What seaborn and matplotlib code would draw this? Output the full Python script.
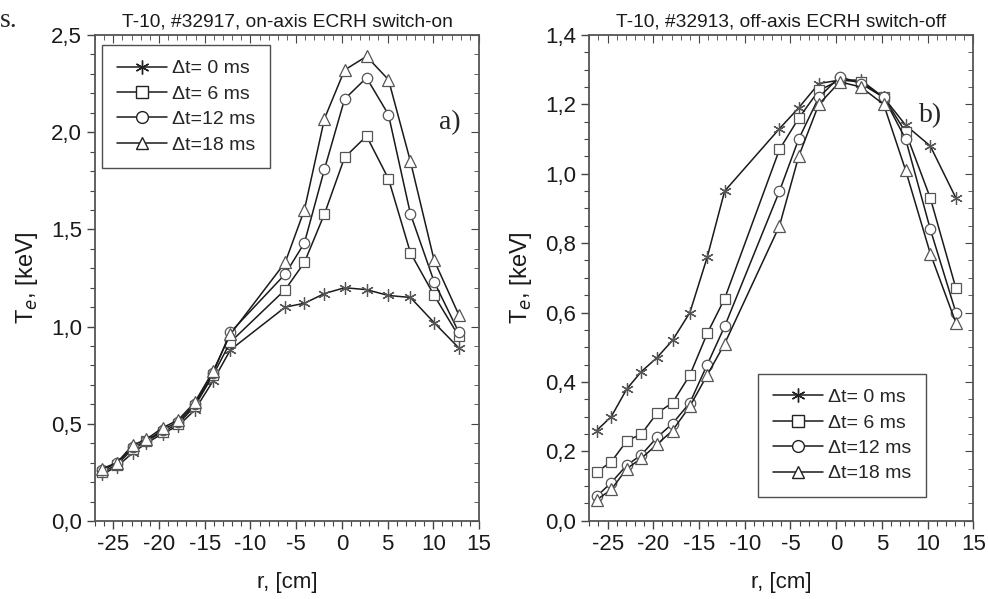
import numpy as np
import pandas as pd
import seaborn as sns
import matplotlib.pyplot as plt
from matplotlib.ticker import MultipleLocator, FuncFormatter
from matplotlib.lines import Line2D

# radial positions of the measurement chords
r_a = [-26.2, -24.6, -22.9, -21.4, -19.6, -17.9, -16.1, -14.1, -12.2,
       -6.2, -4.1, -1.9, 0.3, 2.7, 5.1, 7.5, 10.1, 12.8]
r_b = [-26.2, -24.6, -22.9, -21.3, -19.6, -17.9, -16.0, -14.1, -12.2,
       -6.2, -4.1, -1.9, 0.4, 2.7, 5.2, 7.6, 10.3, 13.1]

labels = ['\u0394t= 0 ms', '\u0394t= 6 ms', '\u0394t=12 ms', '\u0394t=18 ms']

# a) #32917, on-axis ECRH switch-on
te_a_0 = [0.24, 0.28, 0.35, 0.40, 0.45, 0.49, 0.57, 0.72, 0.88,
          1.10, 1.12, 1.17, 1.20, 1.19, 1.16, 1.15, 1.02, 0.89]
te_a_6 = [0.25, 0.29, 0.37, 0.41, 0.46, 0.50, 0.59, 0.75, 0.92,
          1.19, 1.33, 1.58, 1.87, 1.98, 1.76, 1.38, 1.16, 0.95]
te_a_12 = [0.26, 0.30, 0.38, 0.41, 0.47, 0.51, 0.60, 0.76, 0.97,
           1.27, 1.43, 1.81, 2.17, 2.28, 2.09, 1.58, 1.23, 0.97]
te_a_18 = [0.27, 0.30, 0.39, 0.42, 0.48, 0.52, 0.61, 0.77, 0.96,
           1.33, 1.60, 2.07, 2.32, 2.39, 2.27, 1.85, 1.34, 1.06]

# b) #32913, off-axis ECRH switch-off
te_b_0 = [0.26, 0.30, 0.38, 0.43, 0.47, 0.52, 0.60, 0.76, 0.95,
          1.13, 1.19, 1.26, 1.27, 1.27, 1.22, 1.14, 1.08, 0.93]
te_b_6 = [0.14, 0.17, 0.23, 0.25, 0.31, 0.34, 0.42, 0.54, 0.64,
          1.07, 1.16, 1.24, 1.27, 1.265, 1.22, 1.12, 0.93, 0.67]
te_b_12 = [0.07, 0.11, 0.16, 0.19, 0.24, 0.28, 0.34, 0.45, 0.56,
           0.95, 1.10, 1.22, 1.28, 1.26, 1.22, 1.10, 0.84, 0.60]
te_b_18 = [0.06, 0.09, 0.15, 0.18, 0.22, 0.26, 0.33, 0.42, 0.51,
           0.85, 1.05, 1.20, 1.265, 1.25, 1.20, 1.01, 0.77, 0.57]

df_a = pd.DataFrame({'r': r_a * 4, 'Te': te_a_0 + te_a_6 + te_a_12 + te_a_18,
                     'dt': np.repeat(labels, len(r_a))})
df_b = pd.DataFrame({'r': r_b * 4, 'Te': te_b_0 + te_b_6 + te_b_12 + te_b_18,
                     'dt': np.repeat(labels, len(r_b))})

sns.set_style('ticks')
plt.rcParams['font.family'] = ['Liberation Sans', 'DejaVu Sans']
plt.rcParams['axes.unicode_minus'] = False

markers = {labels[0]: (6, 2, 0), labels[1]: 's', labels[2]: 'o', labels[3]: '^'}
msizes = {labels[0]: 9, labels[1]: 7, labels[2]: 7.5, labels[3]: 8}

fig = plt.figure(figsize=(9.88, 5.99), dpi=100)
ax_a = fig.add_axes([0.0962, 0.1302, 0.3886, 0.8114])
ax_b = fig.add_axes([0.5965, 0.1307, 0.3886, 0.8109])

comma = FuncFormatter(lambda v, p: f'{v:.1f}'.replace('.', ','))

def draw(ax, df, title, ymax, ymaj, ymin, tag, tagxy, legloc, legpos):
    for lab in labels:
        sub = df[df['dt'] == lab]
        sns.lineplot(data=sub, x='r', y='Te', ax=ax, color='#1a1a1a', lw=1.1,
                     marker=markers[lab], ms=msizes[lab], mfc='white',
                     mec='#555555', mew=0.9, legend=False)
    ax.set_xlim(-27, 15)
    ax.set_ylim(0, ymax)
    ax.xaxis.set_major_locator(MultipleLocator(5))
    ax.xaxis.set_minor_locator(MultipleLocator(1))
    ax.yaxis.set_major_locator(MultipleLocator(ymaj))
    ax.yaxis.set_minor_locator(MultipleLocator(ymin))
    ax.yaxis.set_major_formatter(comma)
    ax.tick_params(which='both', direction='out', labelsize=16, color='#444444',
                   labelcolor='#1a1a1a', top=False, right=False)
    ax.tick_params(which='major', length=6, width=1)
    ax.tick_params(which='minor', length=3.5, width=0.8)
    for sp in ax.spines.values():
        sp.set_visible(True)
        sp.set_linewidth(1.3)
        sp.set_color('#555555')
    # inner ticks on top and right
    sx = ax.secondary_xaxis('top')
    sx.xaxis.set_major_locator(MultipleLocator(5))
    sx.xaxis.set_minor_locator(MultipleLocator(1))
    sx.tick_params(which='both', direction='in', labeltop=False, color='#444444')
    sx.tick_params(which='major', length=6)
    sx.tick_params(which='minor', length=3.5)
    sy = ax.secondary_yaxis('right')
    sy.yaxis.set_major_locator(MultipleLocator(ymaj))
    sy.yaxis.set_minor_locator(MultipleLocator(ymin))
    sy.tick_params(which='both', direction='in', labelright=False, color='#444444')
    sy.tick_params(which='major', length=6)
    sy.tick_params(which='minor', length=3.5)
    for s in (sx, sy):
        for sp in s.spines.values():
            sp.set_visible(False)
    ax.set_xlabel('r, [cm]', fontsize=16, labelpad=12, color='#1a1a1a')
    ax.set_ylabel('T$_e$, [keV]', fontsize=17, labelpad=8, color='#1a1a1a')
    ax.set_title(title, fontsize=13.8, pad=6, color='#1a1a1a')
    ax.text(tagxy[0], tagxy[1], tag, transform=ax.transAxes, fontsize=20,
            family='Liberation Serif', ha='center', va='center')
    handles = [Line2D([], [], color='#1a1a1a', lw=1.1, marker=markers[l],
                      ms=msizes[l] + 1, mfc='white', mec='#222222', mew=1.0)
               for l in labels]
    leg = ax.legend(handles, labels, loc=legloc, bbox_to_anchor=legpos,
                    fontsize=14, frameon=True, fancybox=False,
                    edgecolor='#222222', handlelength=2.6, borderpad=0.75,
                    labelspacing=0.4, handletextpad=0.25, borderaxespad=0)
    leg.get_frame().set_linewidth(1.0)

draw(ax_a, df_a, 'T-10, #32917, on-axis ECRH switch-on', 2.5, 0.5, 0.1,
     'a)', (0.923, 0.819), 'upper left', (0.019, 0.979))
draw(ax_b, df_b, 'T-10, #32913, off-axis ECRH switch-off', 1.4, 0.2, 0.05,
     'b)', (0.888, 0.834), 'lower right', (0.877, 0.049))

fig.text(0.0, 0.955, 's.', fontsize=20, family='Liberation Serif')

fig.savefig('out.png', dpi=100)
